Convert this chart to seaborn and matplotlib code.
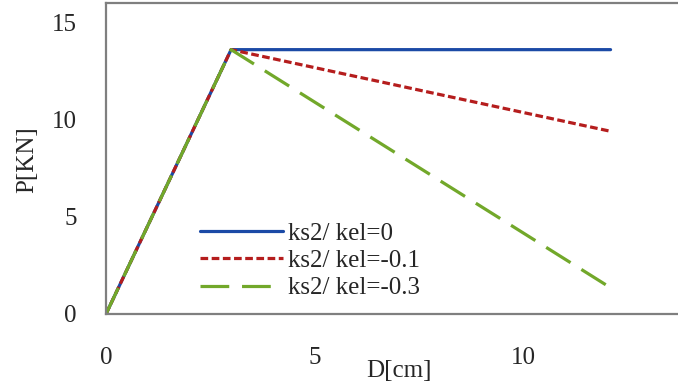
import matplotlib
matplotlib.use("Agg")
import matplotlib.pyplot as plt
import seaborn as sns
import pandas as pd

# Data
x_points = [0, 3, 12.1]
p_ks0 = [0, 13.6, 13.6]
p_ks01 = [0, 13.6, 9.4]
p_ks03 = [0, 13.6, 1.35]
labels = ["ks2/ kel=0", "ks2/ kel=-0.1", "ks2/ kel=-0.3"]
x_ticks = [0, 5, 10]
y_ticks = [0, 5, 10, 15]

df = pd.concat([
    pd.DataFrame({"D": x_points, "P": p_ks0, "series": labels[0]}),
    pd.DataFrame({"D": x_points, "P": p_ks01, "series": labels[1]}),
    pd.DataFrame({"D": x_points, "P": p_ks03, "series": labels[2]}),
])

sns.set_theme(style="white")
plt.rcParams["font.family"] = ["Liberation Serif", "DejaVu Serif"]

W, H = 678, 387
fig = plt.figure(figsize=(W / 100, H / 100), dpi=100)
ax_left, ax_bottom_px, ax_top_px = 106, 314, 3
xmax = 14.0
px_per_unit = 41.7
ax = fig.add_axes([ax_left / W, (H - ax_bottom_px) / H,
                   xmax * px_per_unit / W, (ax_bottom_px - ax_top_px) / H])

palette = {labels[0]: "#1b4aa6", labels[1]: "#b51d1d", labels[2]: "#72a82a"}
dashes = {labels[0]: "", labels[1]: (2.4, 1.1), labels[2]: (9, 4)}

sns.lineplot(data=df, x="D", y="P", hue="series", style="series",
             palette=palette, dashes=dashes, linewidth=2.3, ax=ax,
             hue_order=labels, style_order=labels, legend=True)

FS = 18
ax.set_xlim(0, xmax)
ax.set_ylim(0, 16)
ax.set_xticks(x_ticks)
ax.set_yticks(y_ticks)
ax.tick_params(axis="x", length=0, pad=24, labelsize=FS)
ax.tick_params(axis="y", length=0, pad=21, labelsize=FS)
ax.set_xlabel("D[cm]", fontsize=FS)
ax.set_ylabel("P[KN]", fontsize=FS)
ax.xaxis.set_label_coords((399 - ax_left) / (xmax * px_per_unit), -(371 - ax_bottom_px) / (ax_bottom_px - ax_top_px))
ax.xaxis.label.set_va("center")
ax.yaxis.set_label_coords(-(106 - 27) / (xmax * px_per_unit), (ax_bottom_px - 160) / (ax_bottom_px - ax_top_px))
ax.yaxis.label.set_va("center")

for s in ["left", "top", "bottom"]:
    ax.spines[s].set_color("#7f7f7f")
    ax.spines[s].set_linewidth(1.6)
ax.spines["right"].set_visible(False)
ax.grid(False)

handles, labs = ax.get_legend_handles_labels()
leg = ax.legend(handles, labs, loc="upper left",
                bbox_to_anchor=(200 / W, 1 - 222 / H), bbox_transform=fig.transFigure,
                frameon=False, fontsize=FS, handlelength=3.3, handletextpad=0.2,
                labelspacing=0.2, borderpad=0, borderaxespad=0)
for line in leg.get_lines():
    line.set_linewidth(2.3)

fig.savefig("out.png", dpi=100)
